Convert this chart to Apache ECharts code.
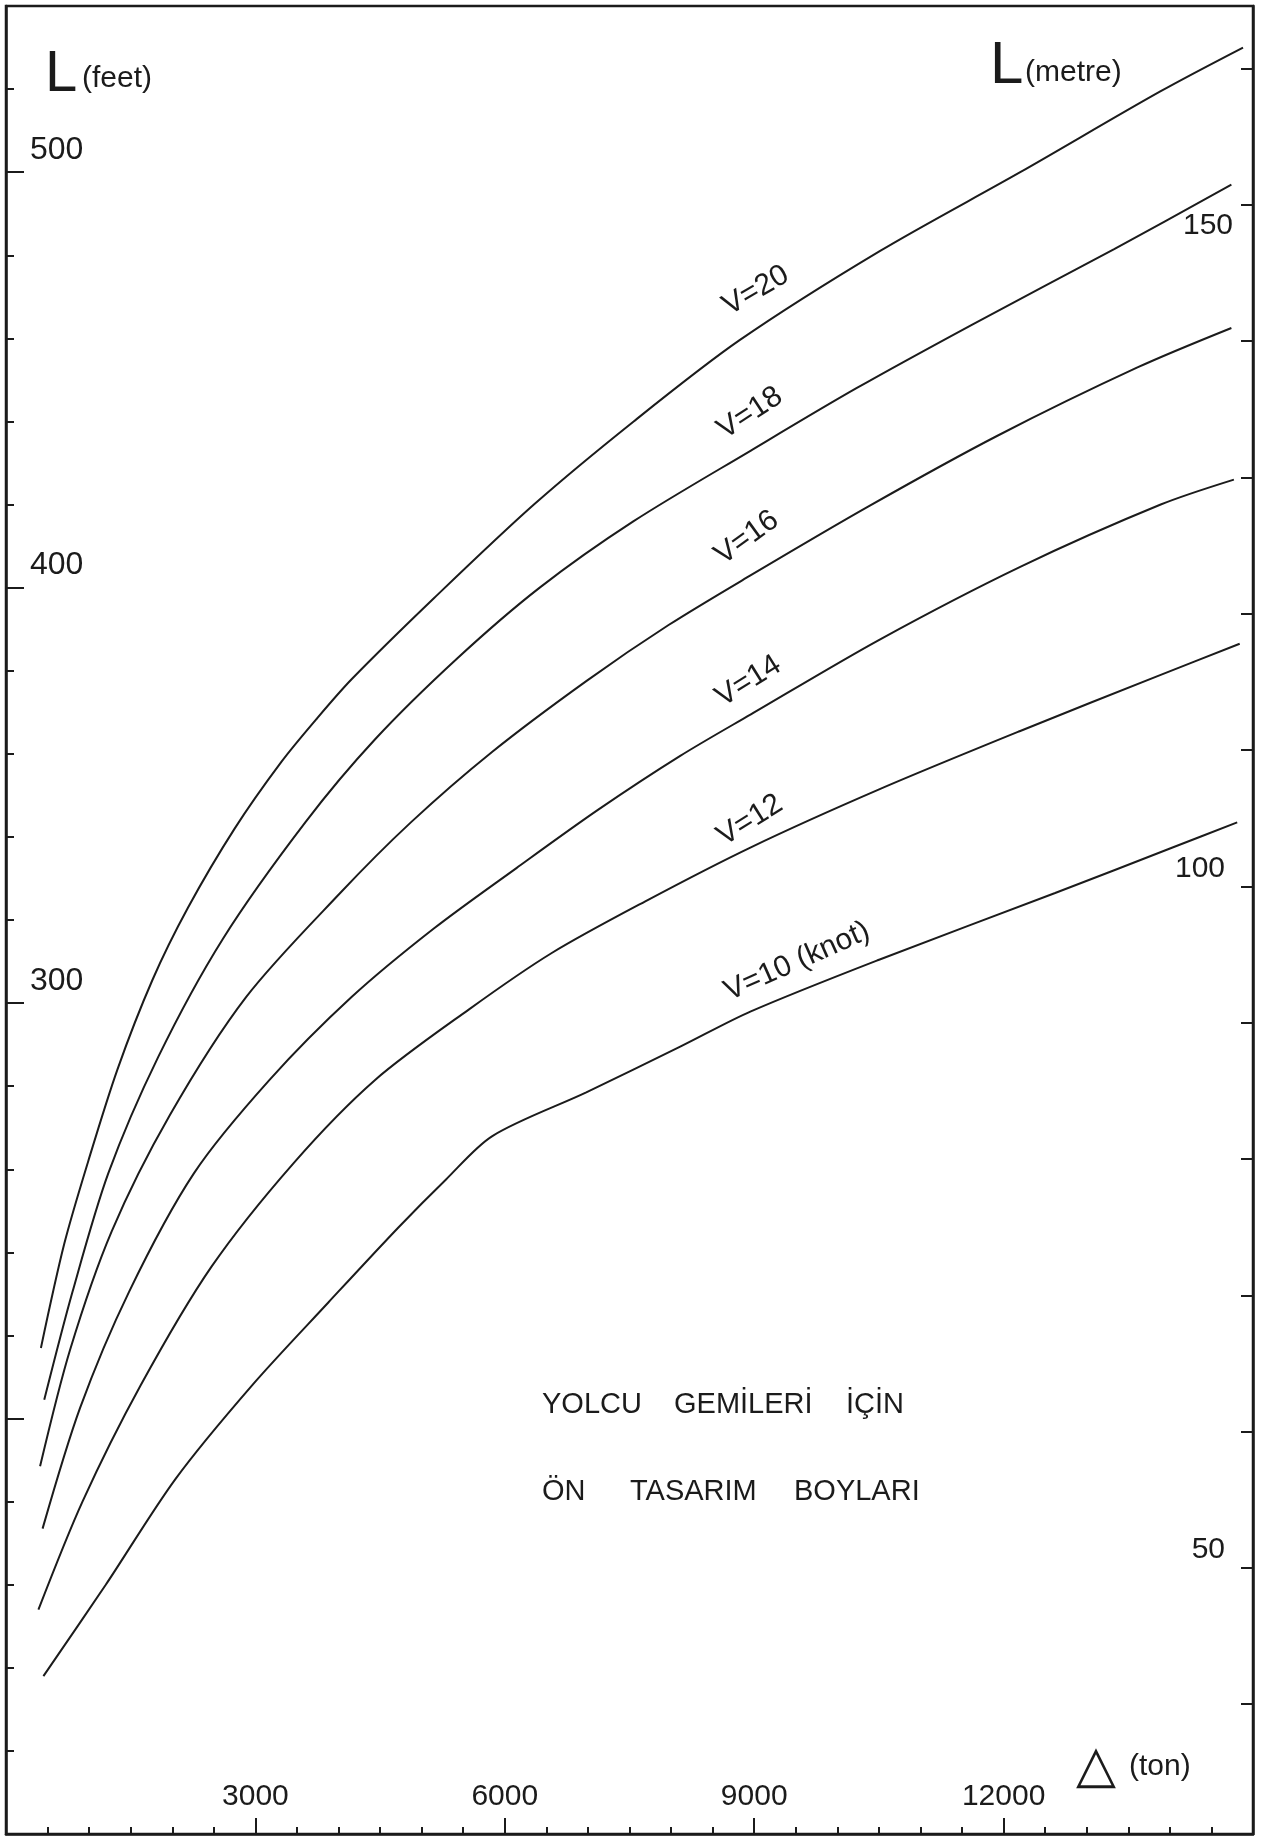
<!DOCTYPE html>
<html>
<head>
    <meta charset="utf-8"/>
    <title>Yolcu gemileri için ön tasarım boyları</title>
    <style>
        html, body { margin: 0; padding: 0; background: #fff; }
        #main { width: 1272px; height: 1838px; }
    </style>
</head>
<body>
<div id="main"></div>
<script src="https://cdn.jsdelivr.net/npm/echarts@6/dist/echarts.min.js"></script>
<script>
    // deplasman (ton) / boy (feet) okumalari, her hiz egrisi icin
    const tons20 = [420, 700, 990, 1340, 1760, 2190, 2750, 3310, 3740, 4160, 5150, 6350, 7550, 8820, 10510, 12200, 13890, 14880];
    const feet20 = [217, 242, 262, 284, 305.5, 323, 342, 358, 368.5, 378, 397.5, 420, 440, 459.5, 481, 500, 519.5, 530];

    const tons18 = [460, 800, 1230, 1830, 2610, 3600, 4440, 5430, 6420, 7550, 8960, 10230, 11640, 13330, 14740];
    const feet18 = [204.5, 230.5, 259, 287, 315.5, 343.5, 363.5, 383, 400, 416, 433, 448, 463.5, 481.5, 497];

    const tons16 = [410, 770, 1270, 1970, 2890, 4020, 4870, 5850, 6980, 7970, 8960, 10370, 11920, 13610, 14740];
    const feet16 = [188.5, 216.5, 245, 273, 301.5, 326.5, 343.5, 360.5, 377.5, 391, 403, 419.5, 436.5, 453, 462.5];

    const tons14 = [440, 890, 1480, 2260, 3170, 4160, 5150, 6140, 7120, 8110, 8960, 10510, 12200, 13890, 14770];
    const feet14 = [173.5, 202.5, 230.5, 259, 281.5, 301.5, 318, 332.5, 346.5, 359.5, 369.5, 387.5, 405, 420, 426];

    const tons12 = [390, 920, 1620, 2470, 3460, 4440, 5570, 6560, 7690, 8960, 10510, 12200, 13890, 14840];
    const feet12 = [154, 180, 208, 236.5, 261.5, 281.5, 298.5, 312, 324.5, 337.5, 351.5, 365.5, 379, 386.5];

    const tons10 = [450, 1200, 2040, 2960, 3880, 4720, 5290, 5850, 6980, 8110, 8960, 10510, 12620, 14040, 14810];
    const feet10 = [138, 160, 185.5, 208, 228, 246, 257.5, 268, 278.5, 289.5, 298, 310.5, 326.5, 337.5, 343.5];

    // egri etiketleri
    const curveNames = ['V=20', 'V=18', 'V=16', 'V=14', 'V=12', 'V=10 (knot)'];
    const labelTons = [9020, 8950, 8910, 8930, 8950, 9515];
    const labelFeet = [471.5, 442, 412, 377.5, 344, 310];
    const labelAngle = [30, 33, 36, 32, 32, 24];

    // eksen isaretleri
    const tonLabels = [3000, 6000, 9000, 12000];
    const feetMinor = [120, 140, 160, 180, 220, 240, 260, 280, 320, 340, 360, 380, 420, 440, 460, 480, 520];
    const feetMajor = [200, 300, 400, 500];
    const feetLabels = [300, 400, 500];
    const metreTicks = [40, 50, 60, 70, 80, 90, 100, 110, 120, 130, 140, 150, 160];

    const FT = 3.28084;
    const ink = '#1b1b1b';
    const font = 'Liberation Sans';
    const plain = function (v) { return String(Math.round(v)); };

    const curves = [
        [tons20, feet20], [tons18, feet18], [tons16, feet16],
        [tons14, feet14], [tons12, feet12], [tons10, feet10]
    ];

    let series = curves.map(function (c, i) {
        return {
            name: curveNames[i],
            type: 'line',
            xAxisIndex: 0,
            yAxisIndex: 0,
            data: c[0].map(function (t, k) { return [t, c[1][k]]; }),
            smooth: 0.3,
            symbol: 'none',
            lineStyle: {color: ink, width: 2},
            silent: true
        };
    });

    series.push({
        type: 'scatter',
        symbolSize: 0,
        silent: true,
        itemStyle: {opacity: 1},
        data: curveNames.map(function (n, i) {
            return {
                name: n,
                value: [labelTons[i], labelFeet[i]],
                label: {rotate: labelAngle[i]}
            };
        }),
        label: {
            show: true,
            position: 'inside',
            formatter: '{b}',
            color: ink,
            opacity: 1,
            textBorderWidth: 0,
            fontFamily: font,
            fontSize: 30
        }
    });

    let myChart = echarts.init(document.getElementById('main'));
    let option = {
        backgroundColor: '#fff',
        animation: false,
        grid: {
            left: 6, right: 19, top: 6, bottom: 4,
            show: true, borderColor: ink, borderWidth: 2.5
        },
        xAxis: [{
            type: 'value', min: 0, max: 15000, interval: 3000,
            axisLine: {lineStyle: {color: ink, width: 2.5}},
            axisTick: {inside: true, length: 16, lineStyle: {color: ink, width: 2}},
            minorTick: {show: true, splitNumber: 6, length: 7, lineStyle: {color: ink, width: 2}},
            splitLine: {show: false},
            axisLabel: {
                inside: true, margin: 22, customValues: tonLabels, formatter: plain,
                color: ink, fontFamily: font, fontSize: 30
            }
        }],
        yAxis: [{
            type: 'value', min: 100, max: 540, position: 'left',
            axisLine: {lineStyle: {color: ink, width: 2.5}},
            axisTick: {inside: true, length: 8, customValues: feetMinor, lineStyle: {color: ink, width: 2}},
            splitLine: {show: false},
            axisLabel: {show: false}
        }, {
            type: 'value', min: 100, max: 540, position: 'left', offset: 0,
            axisLine: {show: false},
            axisTick: {inside: true, length: 18, customValues: feetMajor, lineStyle: {color: ink, width: 2}},
            splitLine: {show: false},
            axisLabel: {
                inside: true, margin: 24, customValues: feetLabels, formatter: plain,
                verticalAlign: 'bottom', padding: [0, 0, 6, 0],
                color: ink, fontFamily: font, fontSize: 32
            }
        }, {
            type: 'value', min: 100 / FT, max: 540 / FT, position: 'right', offset: 0,
            axisLine: {show: true, lineStyle: {color: ink, width: 2.5}},
            axisTick: {inside: true, length: 12, customValues: metreTicks, lineStyle: {color: ink, width: 2}},
            splitLine: {show: false},
            axisLabel: {
                inside: true, margin: 28, customValues: [50, 100], formatter: plain,
                verticalAlign: 'bottom', padding: [0, 0, 3, 0],
                color: ink, fontFamily: font, fontSize: 30
            }
        }, {
            type: 'value', min: 100 / FT, max: 540 / FT, position: 'right', offset: 0,
            axisLine: {show: false},
            axisTick: {show: false},
            splitLine: {show: false},
            axisLabel: {
                inside: true, margin: 20, customValues: [150], formatter: plain,
                verticalAlign: 'top', padding: [6, 0, 0, 0],
                color: ink, fontFamily: font, fontSize: 30
            }
        }],
        graphic: [
            {type: 'text', left: 45, top: 46, style: {text: 'L', font: '58px "Liberation Sans"', fill: ink}},
            {type: 'text', left: 82, top: 64, style: {text: '(feet)', font: '30px "Liberation Sans"', fill: ink}},
            {type: 'text', left: 990, top: 36, style: {text: 'L', font: '60px "Liberation Sans"', fill: ink}},
            {type: 'text', left: 1025, top: 58, style: {text: '(metre)', font: '30px "Liberation Sans"', fill: ink}},
            {type: 'text', left: 1076, top: 1742, style: {text: '△', font: '52px "DejaVu Sans"', fill: ink}},
            {type: 'text', left: 1129, top: 1752, style: {text: '(ton)', font: '30px "Liberation Sans"', fill: ink}},
            {type: 'text', left: 542, top: 1390, style: {text: 'YOLCU', font: '29px "Liberation Sans"', fill: ink}},
            {type: 'text', left: 674, top: 1390, style: {text: 'GEMİLERİ', font: '29px "Liberation Sans"', fill: ink}},
            {type: 'text', left: 846, top: 1390, style: {text: 'İÇİN', font: '29px "Liberation Sans"', fill: ink}},
            {type: 'text', left: 542, top: 1477, style: {text: 'ÖN', font: '29px "Liberation Sans"', fill: ink}},
            {type: 'text', left: 630, top: 1477, style: {text: 'TASARIM', font: '29px "Liberation Sans"', fill: ink}},
            {type: 'text', left: 794, top: 1477, style: {text: 'BOYLARI', font: '29px "Liberation Sans"', fill: ink}}
        ],
        series: series
    };
    myChart.setOption(option);
</script>
</body>
</html>
